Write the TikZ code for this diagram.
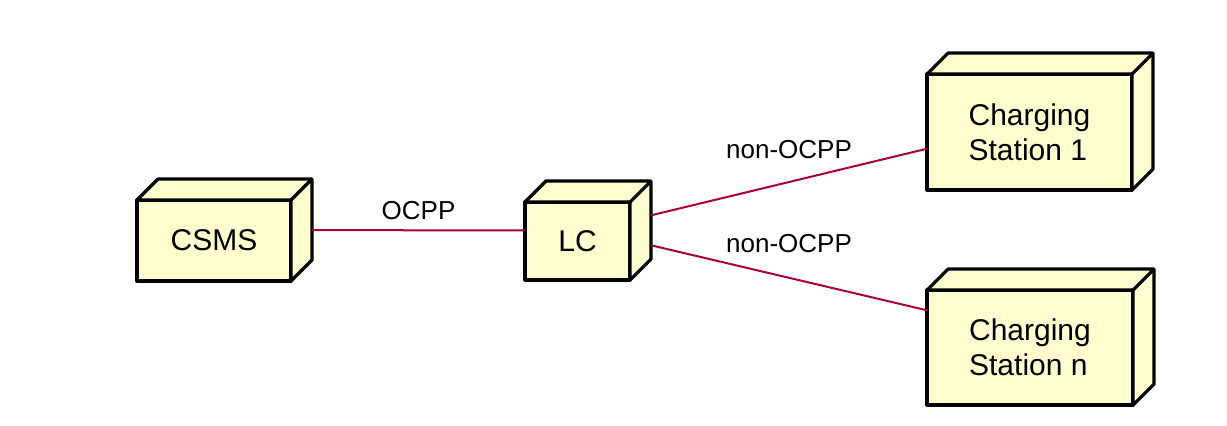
\documentclass[tikz,border=0pt]{standalone}
\usepackage{fontspec}
\setmainfont{Liberation Sans}
\usetikzlibrary{calc,fit}
\definecolor{nodefill}{HTML}{FEFECE}
\definecolor{linkred}{HTML}{A80036}
\tikzset{
	umlnode/.style={draw, line width=2.4pt, fill=nodefill, line join=round, outer sep=0pt, inner sep=0pt, align=left, font=\fontsize{22.5}{26}\selectfont},
	face/.style={draw, line width=2.4pt, fill=nodefill, line join=round},
	hull/.style={inner sep=0pt, outer sep=0pt},
	link/.style={draw=linkred, line width=1.5pt},
	lbl/.style={font=\fontsize{19.5}{22}\selectfont, anchor=base}
}

\begin{document}
\begin{tikzpicture}[x=0.75pt, y=-0.75pt]
	% Page frame, in pixels of the reference
	\useasboundingbox (0,0) rectangle (1227,425);

	% Front faces of the boxes
	\node[umlnode, minimum width=154*0.75pt, minimum height=81*0.75pt] (csms) at (214,240.5) {CSMS};
	\node[umlnode, minimum width=105*0.75pt, minimum height=78*0.75pt] (lc) at (577.5,241) {LC};
	\node[umlnode, minimum width=205*0.75pt, minimum height=116*0.75pt] (cs1) at (1029.5,132) {Charging\\Station 1};
	\node[umlnode, minimum width=206*0.75pt, minimum height=115*0.75pt] (csn) at (1030,347.5) {Charging\\Station n};

	% Depth faces and hull of each box
	\foreach \n in {csms,lc,cs1,csn} {
		\draw[face] (\n.north west) -- ++(21,-21) -- ($(\n.north east)+(21,-21)$) -- ($(\n.south east)+(21,-21)$) -- (\n.south east) -- (\n.north east) -- cycle;
		\draw[face] (\n.north east) -- ++(21,-21);
		\node[hull, fit={(\n.south west) ($(\n.north east)+(21,-21)$)}] (\n-box) {};
	}

	% Links
	\draw[link] (csms-box) -- node[lbl, midway, yshift=8.25pt] {OCPP} (lc-box);
	\draw[link] (lc-box) -- node[lbl, midway, yshift=17.6pt] {non-OCPP} (cs1-box);
	\draw[link] (lc-box) -- node[lbl, midway, yshift=18.75pt] {non-OCPP} (csn-box);

\end{tikzpicture}
\end{document}
